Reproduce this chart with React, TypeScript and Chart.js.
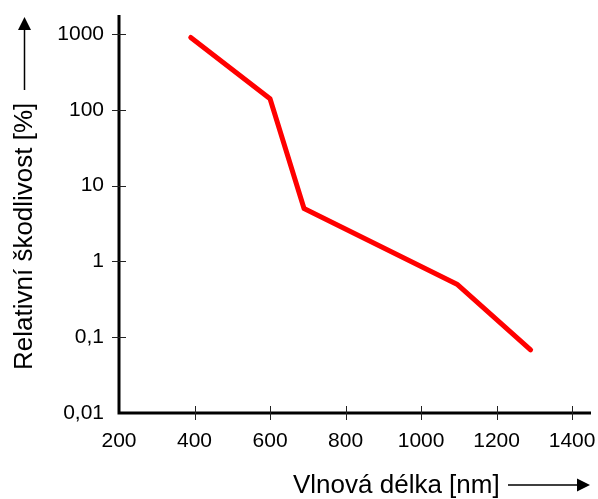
import React, { useEffect, useRef } from 'react';
import { Chart, registerables } from 'chart.js';

Chart.register(...registerables);

const wavelengths = [390, 600, 690, 1095, 1290];
const harmfulness = [900, 140, 5, 0.5, 0.068];
const xTicks = [200, 400, 600, 800, 1000, 1200, 1400];
const yTicks = [0.01, 0.1, 1, 10, 100, 1000];
const yTickLabels = ['0,01', '0,1', '1', '10', '100', '1000'];
const xTitle = 'Vlnová délka [nm]';
const yTitle = 'Relativní škodlivost [%]';

const FONT = 'Arial, "Liberation Sans", sans-serif';

const axesPlugin = {
  id: 'customAxes',
  afterDraw(chart: any) {
    const ctx = chart.ctx;
    const { left, right, top, bottom } = chart.chartArea;
    const xs = chart.scales.x;
    const ys = chart.scales.y;
    ctx.save();
    // axis lines
    ctx.strokeStyle = '#000';
    ctx.lineWidth = 3;
    ctx.lineCap = 'butt';
    ctx.beginPath();
    ctx.moveTo(left, top);
    ctx.lineTo(left, bottom + 1.5);
    ctx.moveTo(left - 1.5, bottom);
    ctx.lineTo(right, bottom);
    ctx.stroke();
    // tick marks crossing the axes
    ctx.lineWidth = 1;
    ctx.strokeStyle = '#222';
    ctx.beginPath();
    xTicks.forEach((v) => {
      if (v === xTicks[0]) return;
      const px = Math.round(xs.getPixelForValue(v)) + 0.5;
      ctx.moveTo(px, bottom - 7);
      ctx.lineTo(px, bottom + 7);
    });
    yTicks.forEach((v) => {
      if (v === yTicks[0]) return;
      const py = Math.round(ys.getPixelForValue(v)) + 0.5;
      ctx.moveTo(left - 7, py);
      ctx.lineTo(left + 7, py);
    });
    ctx.stroke();

    // titles
    ctx.fillStyle = '#000';
    ctx.font = `26px ${FONT}`;
    ctx.textAlign = 'left';
    ctx.textBaseline = 'alphabetic';
    ctx.fillText(xTitle, 293, 493);
    ctx.save();
    ctx.translate(32, 370);
    ctx.rotate(-Math.PI / 2);
    ctx.fillText(yTitle, 0, 0);
    ctx.restore();

    // arrows
    ctx.strokeStyle = '#000';
    ctx.lineWidth = 1.5;
    ctx.beginPath();
    ctx.moveTo(508, 485);
    ctx.lineTo(579, 485);
    ctx.moveTo(24.5, 90);
    ctx.lineTo(24.5, 28);
    ctx.stroke();
    ctx.beginPath();
    ctx.moveTo(590, 485);
    ctx.lineTo(577, 478.5);
    ctx.lineTo(577, 491.5);
    ctx.closePath();
    ctx.fill();
    ctx.beginPath();
    ctx.moveTo(24.5, 17);
    ctx.lineTo(18, 30);
    ctx.lineTo(31, 30);
    ctx.closePath();
    ctx.fill();
    ctx.restore();
  },
};

export default function App() {
  const canvasRef = useRef<HTMLCanvasElement | null>(null);

  useEffect(() => {
    document.body.style.margin = '0';
    const canvas = canvasRef.current;
    if (!canvas) return;
    const chart = new Chart(canvas, {
      type: 'line',
      data: {
        datasets: [
          {
            data: wavelengths.map((x, i) => ({ x, y: harmfulness[i] })),
            borderColor: '#ff0000',
            borderWidth: 5,
            borderCapStyle: 'round',
            borderJoinStyle: 'round',
            pointRadius: 0,
            tension: 0,
            fill: false,
          },
        ],
      },
      options: {
        responsive: false,
        animation: false,
        devicePixelRatio: 1,
        layout: { padding: { left: 0, right: 7, top: 15, bottom: 0 } },
        plugins: {
          legend: { display: false },
          tooltip: { enabled: false },
        },
        scales: {
          x: {
            type: 'linear',
            min: 200,
            max: 1450,
            grid: { display: false, drawTicks: false },
            border: { display: false },
            afterBuildTicks: (scale: any) => {
              scale.ticks = xTicks.map((v) => ({ value: v }));
            },
            afterFit: (scale: any) => {
              scale.height = 86;
              scale.paddingLeft = 0;
              scale.paddingRight = 0;
              scale.paddingTop = 0;
              scale.paddingBottom = 0;
            },
            ticks: {
              color: '#000',
              padding: 16,
              maxRotation: 0,
              autoSkip: false,
              font: { family: FONT, size: 21 },
              callback: (v: any) => String(v),
            },
          },
          y: {
            type: 'logarithmic',
            min: 0.01,
            max: 1781,
            grid: { display: false, drawTicks: false },
            border: { display: false },
            afterBuildTicks: (scale: any) => {
              scale.ticks = yTicks.map((v) => ({ value: v }));
            },
            afterFit: (scale: any) => {
              scale.width = 119;
              scale.paddingLeft = 0;
              scale.paddingRight = 0;
              scale.paddingTop = 0;
              scale.paddingBottom = 0;
            },
            ticks: {
              color: '#000',
              padding: 15,
              autoSkip: false,
              font: { family: FONT, size: 21 },
              callback: (v: any) => {
                const i = yTicks.findIndex((t) => Math.abs(t - Number(v)) < t * 1e-6);
                return i >= 0 ? yTickLabels[i] : '';
              },
            },
          },
        },
      },
      plugins: [axesPlugin],
    } as any);
    return () => chart.destroy();
  }, []);

  return (
    <div style={{ width: 598, height: 499 }}>
      <canvas ref={canvasRef} width={598} height={499} style={{ display: 'block' }} />
    </div>
  );
}
